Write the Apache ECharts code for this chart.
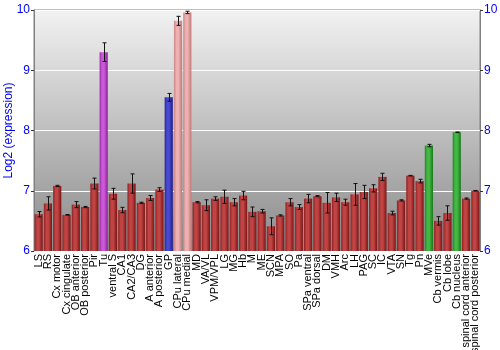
<!DOCTYPE html>
<html><head><meta charset="utf-8">
<script src="https://cdn.jsdelivr.net/npm/echarts@6/dist/echarts.min.js"></script>
<style>html,body{margin:0;padding:0;background:#fff}#c{width:500px;height:350px}</style>
</head><body><div id="c"></div>
<script>
var categories = ['LS','RS','Cx motor','Cx cingulate','OB anterior','OB posterior','Pir','Tu','ventral S','CA1','CA2/CA3','DG','A anterior','A posterior','GP','CPu lateral','CPu medial','MD','VA/VL','VPM/VPL','LG','MG','Hb','M','ME','SCN','MPA','SO','Pa','SPa ventral','SPa dorsal','DM','VMH','Arc','LH','PAG','SC','IC','VTA','SN','Tg','Pn','MVe','Cb vermis','Cb lobe','Cb nucleus','spinal cord anterior','spinal cord posterior'];
var values = [6.61,6.79,7.08,6.60,6.77,6.73,7.12,9.30,6.95,6.68,7.12,6.80,6.88,7.02,8.55,9.82,9.96,6.81,6.76,6.87,6.90,6.81,6.92,6.65,6.66,6.41,6.59,6.81,6.73,6.87,6.91,6.80,6.89,6.81,6.94,6.98,7.04,7.23,6.63,6.84,7.25,7.16,7.75,6.50,6.63,7.97,6.87,7.00];
var errors = [0.045,0.11,0.01,0.005,0.05,0.01,0.09,0.155,0.09,0.045,0.16,0.01,0.04,0.03,0.065,0.075,0.02,0.01,0.09,0.03,0.11,0.06,0.07,0.08,0.03,0.14,0.01,0.06,0.04,0.07,0.01,0.17,0.07,0.05,0.18,0.11,0.06,0.06,0.03,0.01,0.005,0.03,0.02,0.07,0.12,0.005,0.01,0.005];
var groups = ['r','r','r','r','r','r','r','purple','r','r','r','r','r','r','blue','pink','pink','r','r','r','r','r','r','r','r','r','r','r','r','r','r','r','r','r','r','r','r','r','r','r','r','r','green','r','r','green','r','r'];
var yTicks = [6,7,8,9,10];

function grad(edgeL, mid, edgeR){
  return new echarts.graphic.LinearGradient(0,0,1,0,[
    {offset:0,color:edgeL},{offset:0.3,color:mid},{offset:0.55,color:mid},{offset:1,color:edgeR}]);
}
var palette = {
  r: grad('#8f2020','#c04444','#7a1414'),
  purple: grad('#9a2aa8','#cc5ad8','#8a2098'),
  blue: grad('#24249a','#4a4ad0','#1c1c88'),
  pink: grad('#c98585','#eeb0b0','#bd7a7a'),
  green: grad('#1e8a1e','#44b844','#187818')
};
var barData = values.map(function(v,i){ return {value:v, itemStyle:{color:palette[groups[i]]}}; });
var errData = values.map(function(v,i){ return [i, v-errors[i], v+errors[i]]; });

var chart = echarts.init(document.getElementById('c'), null, {renderer:'canvas'});
chart.setOption({
  animation:false,
  grid:{left:34,right:20,top:10,bottom:99,outerBoundsMode:'none',containLabel:false,show:true,borderColor:'#808080',borderWidth:1,
    backgroundColor:new echarts.graphic.LinearGradient(0,0,0,1,[{offset:0,color:'#f2f2f2'},{offset:1,color:'#8a8a8a'}])},
  xAxis:{type:'category',data:categories,
    axisLine:{show:false},axisTick:{show:false},
    axisLabel:{rotate:90,interval:0,color:'#000',fontFamily:'Liberation Sans',fontSize:11,margin:3}},
  yAxis:[{type:'value',min:6,max:10,interval:1,
    name:'Log2 (expression)',nameLocation:'middle',nameGap:19,nameRotate:90,nameMoveOverlap:false,
    nameTextStyle:{color:'#0000ff',fontFamily:'Liberation Sans',fontSize:12},
    axisLine:{show:true,lineStyle:{color:'#808080'}},axisTick:{show:true,length:3,lineStyle:{color:'#333'}},
    axisLabel:{color:'#0000ff',fontFamily:'Liberation Sans',fontSize:12,margin:4,
      formatter:function(v){return yTicks.indexOf(v)>=0?String(v):'';}},
    splitLine:{show:true,lineStyle:{color:'#ffffff',width:1}}},
   {type:'value',min:6,max:10,interval:1,position:'right',
    axisLine:{show:true,lineStyle:{color:'#808080'}},axisTick:{show:true,length:3,lineStyle:{color:'#333'}},
    axisLabel:{color:'#0000ff',fontFamily:'Liberation Sans',fontSize:12,margin:4},
    splitLine:{show:false}}],
  series:[
    {type:'bar',data:barData,barCategoryGap:'12%'},
    {type:'custom',data:errData,z:5,
     renderItem:function(params,api){
       var x=api.value(0), lo=api.coord([x,api.value(1)]), hi=api.coord([x,api.value(2)]);
       var cx=Math.round(lo[0])+0.5, w=2;
       var st={stroke:'#111',lineWidth:1};
       return {type:'group',children:[
         {type:'line',shape:{x1:cx,y1:lo[1],x2:cx,y2:hi[1]},style:st},
         {type:'line',shape:{x1:cx-w,y1:lo[1],x2:cx+w,y2:lo[1]},style:st},
         {type:'line',shape:{x1:cx-w,y1:hi[1],x2:cx+w,y2:hi[1]},style:st}]};
     }}
  ]
});
</script></body></html>
